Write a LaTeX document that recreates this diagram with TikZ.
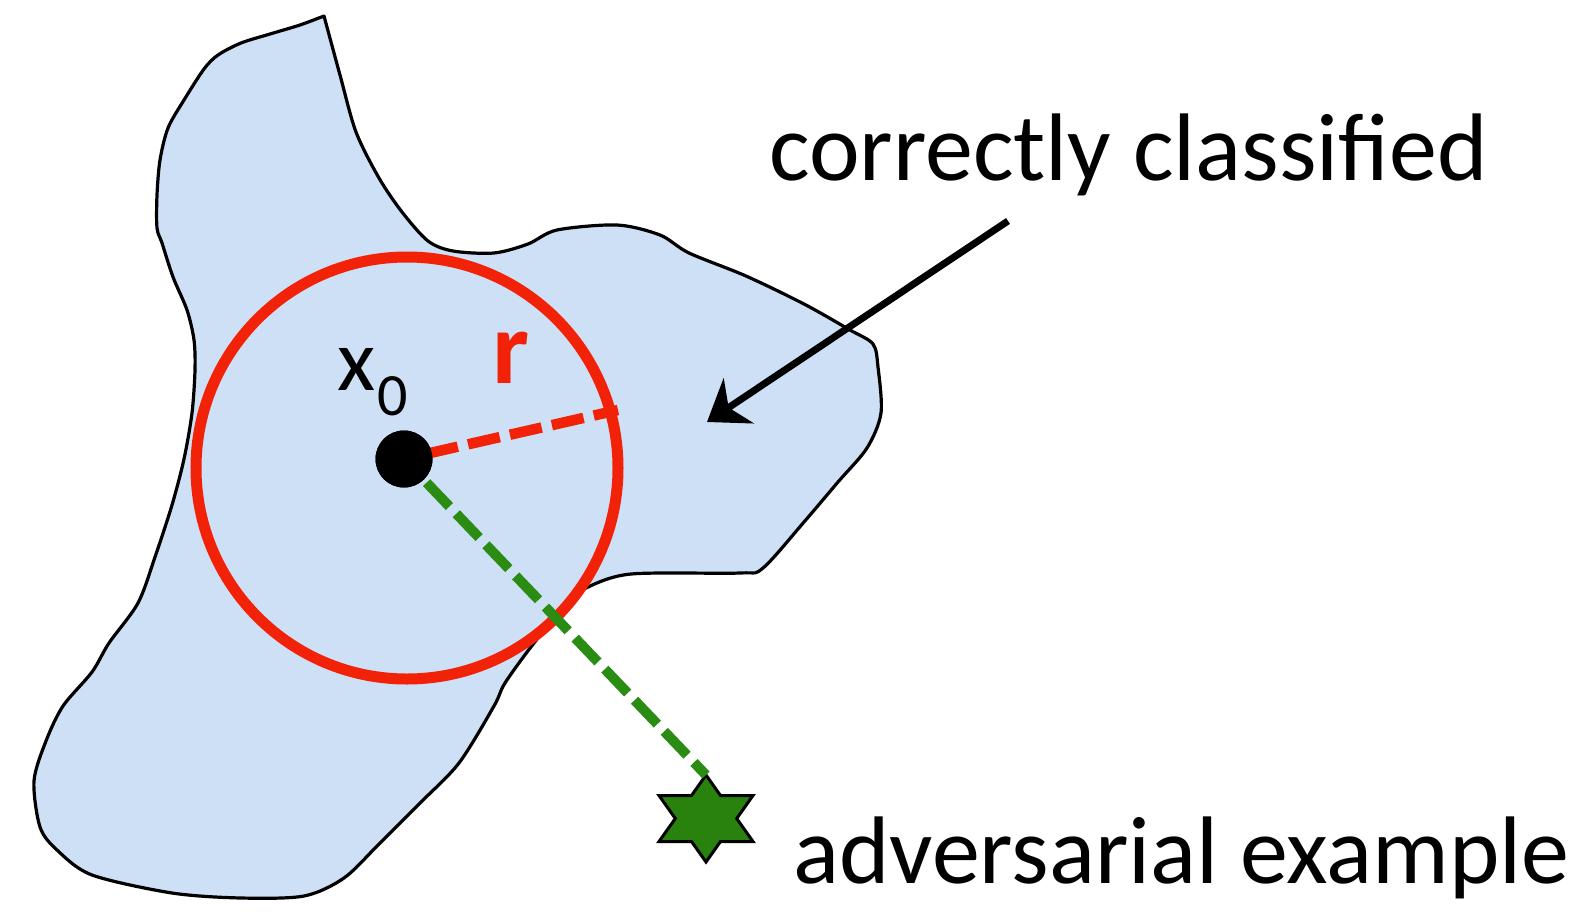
\documentclass[tikz,border=0pt]{standalone}
\usepackage{fontspec}
\setmainfont{Carlito}
\usetikzlibrary{arrows.meta}
\definecolor{blobfill}{RGB}{206,224,245}
\definecolor{rred}{RGB}{242,34,8}
\definecolor{ggreen}{RGB}{42,140,18}
\definecolor{starfill}{RGB}{42,130,14}
\tikzset{
  blob/.style={draw=black,fill=blobfill,line width=3.2pt,line join=round},
  ball/.style={circle,draw=rred,line width=11pt,minimum size=422pt,inner sep=0pt},
  pt/.style={circle,fill=black,minimum size=57pt,inner sep=0pt},
  rdash/.style={draw=rred,line width=10.5pt,dash pattern=on 32.5pt off 10.5pt},
  gdash/.style={draw=ggreen,line width=10pt,dash pattern=on 33pt off 10pt},
  advstar/.style={draw=black,line width=3pt,fill=starfill,line join=miter},
  lbl/.style={font=\fontsize{96}{110}\selectfont,inner sep=0pt,anchor=base west},
  arr/.style={draw=black,line width=7pt,-{Stealth[length=38pt,width=54pt,inset=12pt]}}
}
\begin{document}
\begin{tikzpicture}[x=1pt,y=-1pt]
\useasboundingbox (0,0) rectangle (1588,919);
% blob
\path[blob] (324,16) -- plot[smooth,tension=0.5] coordinates {
(324,16) (340,75) (356,132) (379,178) (402,212) (428,241) (453,251) (494,253) (528,244) (557,230)
(617,225) (660,235) (689,253) (746,276) (804,304) (850,330) (873,344) (878,367) (881,413)
(867,448) (838,482) (804,522) (763,568) (740,573) (631,574) (586,588) (568,603) (534,643)
(505,683) (494,706) (459,763) (419,804) (379,844) (344,878) (304,896) (241,898) (172,893)
(92,875) (57,850) (40,827) (34,781) (46,741) (63,706) (92,672) (109,643) (138,603) (155,557)
(172,505) (184,459) (192,413) (195,370) (194,340) (187,310) (173,277) (162,243) (157,228)
(157,195) (160,160) (168,128) (184,100) (204,69) (218,55) (241,43) (270,34) (300,25) (324,16)} -- cycle;
% ball of radius r
\node[ball] (ball) at (407,468) {};
\node[pt] (x0) at (404,459) {};
\coordinate (rend) at (618,410);
% adversarial star (two overlapping triangles)
\coordinate (adv) at (706,818.5);
\coordinate (advtop) at (706,775);
\path[advstar,shift={(706,818.5)}]
  (0,-43.5) -- (14.5,-23) -- (47,-23) -- (30.7,0) -- (47,23) -- (14.5,23) -- (0,43.5)
  -- (-14.5,23) -- (-47,23) -- (-30.7,0) -- (-47,-23) -- (-14.5,-23) -- cycle;
\draw[gdash,shorten <=4pt] (x0) -- (advtop);
\draw[rdash,shorten <=-6pt] (x0) -- (rend);
\node[pt] at (x0) {};
% labels
\node[font=\fontsize{88}{100}\selectfont,inner sep=0pt,anchor=base west] (xlbl) at (337,390) {x};
\node[font=\fontsize{60}{70}\selectfont,inner sep=0pt,anchor=base west] (sub0) at (377,415) {0};
\node[font=\fontsize{104}{120}\selectfont\bfseries,text=rred,inner sep=0pt,anchor=base] (rlbl) at (511,383) {r};
\node[lbl] (cc) at (769,180) {correctly classified};
\node[lbl] (ae) at (793,883) {adversarial example};
\coordinate (atail) at (1008,221);
\coordinate (ahead) at (707,422);
\draw[arr] (atail) -- (ahead);
\end{tikzpicture}
\end{document}
